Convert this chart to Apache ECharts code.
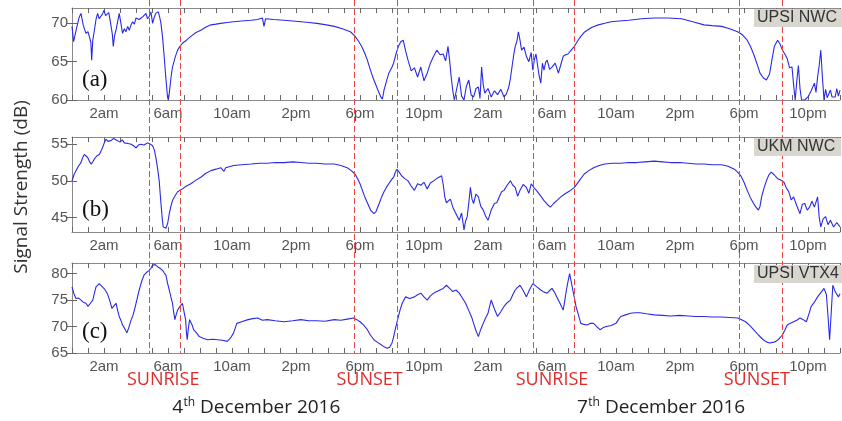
<!DOCTYPE html>
<html><head><meta charset="utf-8">
<script src="https://cdn.jsdelivr.net/npm/echarts@6/dist/echarts.min.js"></script>
<style>html,body{margin:0;padding:0;background:#fff}#c{width:842px;height:421px}</style>
</head><body><div id="c"></div>
<script>
// hours since 00:00 of the first day (4 Dec: 0-24, 7 Dec: 24-48)
const tickHours = [2,6,10,14,18,22,26,30,34,38,42,46];
const tickLabels = ['2am','6am','10am','2pm','6pm','10pm','2am','6am','10am','2pm','6pm','10pm'];
const terminatorHours = [4.8,6.75,17.65,20.3,28.8,31.4,41.7,44.4];
const eventLabelHours = [5.7,18.6,30.0,42.8];
const eventLabels = ['SUNRISE','SUNSET','SUNRISE','SUNSET'];
const stationNames = ['UPSI NWC','UKM NWC','UPSI VTX4'];
const panelTags = ['(a)','(b)','(c)'];
const dateDays = ['4','7'];
const dateCenterHours = [11.5, 36.8];

const upsiNwc = [[0,69.6],[0.1,67.6],[0.3,69.5],[0.45,70.8],[0.56,71.3],[0.7,69.8],[0.87,68.7],[1.0,68.9],[1.08,68.3],[1.18,67.5],[1.23,65.2],[1.3,67.8],[1.4,69.1],[1.5,70.5],[1.6,71.3],[1.7,70.6],[1.8,70.4],[1.9,71.2],[2.0,71.7],[2.1,71.0],[2.2,70.9],[2.3,71.4],[2.43,69.8],[2.52,68.6],[2.58,67.0],[2.66,68.4],[2.75,69.1],[2.85,70.2],[2.95,71.3],[3.05,70.1],[3.16,68.7],[3.27,69.3],[3.37,68.9],[3.48,69.6],[3.58,69.1],[3.69,69.8],[3.79,70.2],[3.9,69.9],[4.0,70.7],[4.1,70.9],[4.2,70.5],[4.3,70.4],[4.45,70.9],[4.62,71.3],[4.72,70.6],[4.83,70.9],[4.93,71.5],[5.04,70.0],[5.14,70.8],[5.24,71.3],[5.39,71.5],[5.47,70.9],[5.56,70.0],[5.66,68.2],[5.76,65.7],[5.86,63.0],[5.97,60.4],[6.02,60.0],[6.08,60.9],[6.18,62.8],[6.28,64.3],[6.45,65.6],[6.6,66.5],[6.75,67.0],[6.9,67.4],[7.15,67.8],[7.43,68.3],[7.75,68.8],[8.05,69.1],[8.35,69.5],[8.68,69.8],[9.0,69.9],[9.3,70.0],[9.7,70.1],[10.1,70.2],[10.6,70.3],[11.2,70.4],[11.6,70.5],[11.9,70.7],[12.0,69.6],[12.1,70.6],[12.6,70.5],[13.25,70.4],[13.8,70.3],[14.3,70.2],[14.8,70.1],[15.3,70.0],[15.9,69.8],[16.4,69.6],[16.9,69.3],[17.4,68.9],[17.7,68.3],[17.9,67.7],[18.1,67.0],[18.3,66.1],[18.46,65.2],[18.65,63.9],[18.87,62.6],[19.1,61.4],[19.3,60.4],[19.4,60.1],[19.5,61.3],[19.65,62.4],[19.8,63.5],[20.0,64.3],[20.1,64.8],[20.25,66.0],[20.4,67.0],[20.55,67.6],[20.7,67.8],[20.85,66.4],[21.0,65.2],[21.2,63.8],[21.4,64.2],[21.6,63.0],[21.8,64.3],[22.0,62.5],[22.2,63.5],[22.4,64.8],[22.6,65.7],[22.8,66.5],[23.0,65.9],[23.2,66.0],[23.35,65.1],[23.5,67.0],[23.6,65.2],[23.7,63.0],[23.8,61.2],[23.9,60.0],[24.05,61.5],[24.2,63.0],[24.35,60.5],[24.5,60.0],[24.65,61.8],[24.8,62.6],[24.95,60.6],[25.1,60.4],[25.25,61.5],[25.4,61.7],[25.5,60.2],[25.6,64.3],[25.7,62.0],[25.8,60.9],[26.0,61.5],[26.2,60.4],[26.4,61.2],[26.6,60.7],[26.8,61.4],[27.0,60.4],[27.15,60.8],[27.3,61.7],[27.4,62.8],[27.5,64.3],[27.6,65.8],[27.7,67.0],[27.8,67.6],[27.9,68.9],[28.0,67.8],[28.1,66.5],[28.25,66.9],[28.4,65.7],[28.55,65.0],[28.7,66.2],[28.8,63.9],[28.9,65.3],[29.0,66.0],[29.1,64.5],[29.2,63.1],[29.3,62.2],[29.4,64.8],[29.5,63.9],[29.6,64.9],[29.7,65.2],[29.85,64.0],[30.0,64.3],[30.2,64.8],[30.4,63.5],[30.55,64.6],[30.7,65.7],[30.85,65.9],[31.0,66.0],[31.2,66.5],[31.4,67.0],[31.6,67.7],[31.8,68.3],[32.0,68.8],[32.2,69.1],[32.5,69.5],[32.9,69.8],[33.3,70.0],[33.7,70.2],[34.2,70.3],[34.8,70.4],[35.6,70.6],[36.4,70.7],[37.2,70.7],[38.1,70.6],[38.8,70.2],[39.5,69.8],[40.0,69.7],[40.6,69.6],[41.1,69.3],[41.6,68.9],[41.9,68.5],[42.2,67.8],[42.4,67.0],[42.6,66.0],[42.8,64.8],[43.0,63.5],[43.2,62.9],[43.4,62.6],[43.6,63.4],[43.75,65.3],[43.9,67.0],[44.1,67.8],[44.25,67.3],[44.4,66.5],[44.55,66.0],[44.7,65.4],[44.85,64.2],[45.0,64.3],[45.1,62.0],[45.2,60.0],[45.3,62.5],[45.4,64.5],[45.5,61.5],[45.6,60.0],[45.8,60.0],[46.0,60.4],[46.2,61.2],[46.4,62.2],[46.5,61.0],[46.6,63.0],[46.7,64.5],[46.8,66.5],[46.9,63.0],[47.0,60.0],[47.1,61.4],[47.2,60.3],[47.4,61.3],[47.5,60.4],[47.7,60.4],[47.8,61.5],[47.9,60.5],[48.0,61.3]];

const ukmNwc = [[0,50.0],[0.12,50.8],[0.25,51.4],[0.4,52.0],[0.56,52.5],[0.67,53.2],[0.77,53.6],[0.88,53.4],[0.98,53.2],[1.08,52.7],[1.19,52.3],[1.3,52.6],[1.4,53.0],[1.55,53.4],[1.7,53.6],[1.8,54.0],[1.9,54.5],[2.0,55.1],[2.12,55.7],[2.25,55.4],[2.43,55.5],[2.6,55.8],[2.85,55.5],[3.0,55.3],[3.15,55.6],[3.27,55.2],[3.5,55.1],[3.7,55.0],[3.85,54.8],[4.0,54.5],[4.15,54.9],[4.3,55.0],[4.5,54.9],[4.72,55.2],[4.9,55.0],[5.04,54.8],[5.15,54.2],[5.24,53.2],[5.35,51.7],[5.45,50.0],[5.56,46.9],[5.65,44.6],[5.7,43.7],[5.87,43.5],[5.98,44.2],[6.08,45.5],[6.18,46.5],[6.28,47.3],[6.45,48.0],[6.6,48.5],[6.9,48.9],[7.15,49.3],[7.43,49.6],[7.75,50.1],[8.05,50.5],[8.35,51.0],[8.68,51.4],[9.0,51.6],[9.3,51.8],[9.5,51.3],[9.6,51.8],[10.1,52.1],[10.6,52.2],[11.2,52.3],[11.7,52.4],[12.2,52.4],[12.7,52.5],[13.25,52.5],[13.8,52.6],[14.3,52.5],[14.8,52.4],[15.3,52.4],[15.8,52.3],[16.4,52.3],[16.8,52.1],[17.2,51.8],[17.45,51.4],[17.7,50.9],[17.85,50.3],[18.0,49.6],[18.15,48.7],[18.3,47.8],[18.5,46.8],[18.66,46.0],[18.87,45.5],[19.0,45.8],[19.2,46.9],[19.35,47.8],[19.5,48.5],[19.65,49.1],[19.8,49.6],[19.95,50.1],[20.1,50.5],[20.2,51.1],[20.3,51.6],[20.45,51.2],[20.6,50.7],[20.8,50.3],[21.0,50.0],[21.2,49.3],[21.4,48.7],[21.6,49.6],[21.8,49.4],[22.0,49.8],[22.2,48.9],[22.4,49.7],[22.6,50.0],[22.85,50.4],[23.1,50.7],[23.2,49.5],[23.3,47.8],[23.4,47.0],[23.5,46.9],[23.65,47.5],[23.8,46.4],[24.0,45.5],[24.2,44.6],[24.35,45.6],[24.5,43.3],[24.6,44.5],[24.7,45.1],[24.8,47.0],[24.9,49.1],[25.0,47.5],[25.1,46.9],[25.25,48.2],[25.4,47.8],[25.55,46.5],[25.7,46.0],[25.85,45.2],[26.0,44.6],[26.2,46.0],[26.4,46.9],[26.55,47.0],[26.7,47.8],[26.85,48.5],[27.0,48.7],[27.2,49.4],[27.4,50.0],[27.55,49.4],[27.7,49.1],[27.85,47.9],[28.0,48.7],[28.2,49.5],[28.4,49.1],[28.55,48.3],[28.7,49.6],[28.9,49.0],[29.1,48.5],[29.3,47.9],[29.5,47.3],[29.7,46.8],[29.9,46.4],[30.1,46.9],[30.3,47.3],[30.55,47.8],[30.8,48.2],[31.1,48.6],[31.4,49.1],[31.7,50.0],[32.0,50.9],[32.3,51.4],[32.6,51.8],[32.95,52.1],[33.3,52.3],[33.8,52.4],[34.3,52.4],[34.8,52.5],[35.3,52.5],[35.8,52.6],[36.4,52.7],[36.9,52.6],[37.4,52.5],[38.0,52.5],[38.5,52.4],[39.0,52.3],[39.5,52.3],[40.0,52.2],[40.6,52.2],[41.0,52.0],[41.4,51.6],[41.6,51.2],[41.8,50.7],[42.0,49.8],[42.2,48.7],[42.4,47.7],[42.6,46.9],[42.75,46.4],[42.9,46.0],[43.0,46.5],[43.1,47.8],[43.25,49.0],[43.4,50.0],[43.55,50.8],[43.7,51.2],[43.9,50.8],[44.1,50.3],[44.3,50.1],[44.5,49.8],[44.65,49.0],[44.8,48.5],[44.95,47.4],[45.1,47.8],[45.3,46.6],[45.5,45.5],[45.65,46.8],[45.8,46.9],[45.95,46.0],[46.1,46.4],[46.25,47.2],[46.4,46.4],[46.6,47.8],[46.7,45.0],[46.8,43.7],[46.95,44.8],[47.1,45.1],[47.25,44.0],[47.4,44.6],[47.6,43.7],[47.8,44.3],[48.0,43.7]];

const upsiVtx = [[0,77.5],[0.12,76.2],[0.25,75.3],[0.4,75.4],[0.56,75.0],[0.7,74.6],[0.87,74.4],[1.0,73.8],[1.15,74.4],[1.3,75.0],[1.4,76.3],[1.5,77.5],[1.6,77.8],[1.7,78.1],[1.8,77.9],[1.9,77.5],[2.05,77.0],[2.2,76.3],[2.35,75.0],[2.5,73.4],[2.62,73.9],[2.75,74.4],[2.85,73.1],[2.95,71.9],[3.05,71.2],[3.16,70.3],[3.3,69.6],[3.43,68.8],[3.55,69.8],[3.7,71.3],[3.8,72.0],[3.9,73.1],[4.05,75.0],[4.2,76.9],[4.35,78.5],[4.5,79.7],[4.65,80.2],[4.83,80.6],[4.95,81.1],[5.04,81.6],[5.2,81.7],[5.35,81.3],[5.5,81.0],[5.66,80.6],[5.77,80.1],[5.87,79.7],[5.97,78.2],[6.08,76.9],[6.18,75.6],[6.28,74.4],[6.35,72.8],[6.43,71.3],[6.5,72.1],[6.6,73.1],[6.75,73.8],[6.9,74.4],[7.0,72.8],[7.1,71.3],[7.15,69.0],[7.2,67.5],[7.28,69.8],[7.35,71.3],[7.43,71.3],[7.52,70.2],[7.6,69.4],[7.78,68.8],[7.95,68.1],[8.2,67.8],[8.47,67.5],[8.8,67.6],[9.1,67.5],[9.4,67.4],[9.7,67.2],[9.9,67.8],[10.1,68.8],[10.2,69.7],[10.3,70.6],[10.6,70.9],[11.0,71.3],[11.3,71.5],[11.6,71.6],[11.9,71.2],[12.2,71.3],[12.7,71.1],[13.25,70.9],[13.8,71.1],[14.3,71.3],[14.8,71.1],[15.3,71.1],[15.8,71.0],[16.4,71.3],[16.8,71.2],[17.2,71.4],[17.6,71.6],[17.8,71.3],[18.0,70.9],[18.25,70.2],[18.46,69.4],[18.65,68.4],[18.87,67.5],[19.1,67.0],[19.3,66.6],[19.5,66.2],[19.7,65.9],[19.85,66.1],[20.0,66.9],[20.1,68.0],[20.2,69.4],[20.35,71.3],[20.5,73.1],[20.65,74.5],[20.85,75.6],[21.1,75.3],[21.4,75.6],[21.6,76.0],[21.8,76.3],[22.0,75.6],[22.2,75.0],[22.4,75.8],[22.6,76.3],[22.8,76.6],[23.0,76.9],[23.2,77.2],[23.4,77.8],[23.6,77.2],[23.8,76.6],[24.0,76.9],[24.2,76.3],[24.4,75.4],[24.6,74.4],[24.8,73.0],[25.0,71.6],[25.1,70.6],[25.25,69.2],[25.4,68.1],[25.55,69.5],[25.7,70.6],[25.85,71.6],[26.0,72.5],[26.1,73.8],[26.2,75.0],[26.4,73.3],[26.6,71.9],[26.8,72.8],[27.0,73.8],[27.2,74.5],[27.4,75.0],[27.55,76.0],[27.7,76.9],[27.85,77.4],[28.0,77.8],[28.2,76.8],[28.4,75.6],[28.6,77.0],[28.8,78.1],[29.05,77.5],[29.3,76.9],[29.5,76.5],[29.7,76.3],[29.85,76.8],[30.0,77.2],[30.15,76.5],[30.3,75.6],[30.5,74.4],[30.7,73.1],[30.8,74.9],[30.9,76.9],[31.0,78.5],[31.1,80.0],[31.2,78.5],[31.3,76.9],[31.4,75.4],[31.5,73.8],[31.65,72.2],[31.8,70.6],[32.0,70.4],[32.2,70.3],[32.4,70.6],[32.6,70.6],[32.8,70.0],[33.0,69.4],[33.2,69.8],[33.4,70.0],[33.7,70.2],[34.0,70.6],[34.15,71.3],[34.3,71.9],[34.6,72.2],[34.9,72.5],[35.2,72.6],[35.5,72.6],[35.9,72.4],[36.4,72.2],[36.9,72.1],[37.4,72.0],[38.0,72.1],[38.5,72.0],[39.0,71.9],[39.5,71.9],[40.0,71.8],[40.6,71.8],[41.1,71.7],[41.6,71.6],[41.85,71.3],[42.1,70.9],[42.35,70.2],[42.6,69.4],[42.9,68.4],[43.2,67.5],[43.4,67.1],[43.6,66.9],[43.8,67.0],[44.0,67.2],[44.2,67.7],[44.4,68.4],[44.55,69.3],[44.7,70.3],[44.9,70.6],[45.1,70.9],[45.3,71.2],[45.5,71.6],[45.7,71.3],[45.9,70.9],[46.05,72.3],[46.2,73.8],[46.4,74.6],[46.6,75.6],[46.8,76.4],[47.0,77.2],[47.15,76.0],[47.25,72.0],[47.35,67.5],[47.45,72.5],[47.55,77.8],[47.7,76.6],[47.9,75.6],[48.0,76.2]];

const yRanges = [[60,72],[43,56],[65,82]];
const yTicks = [[60,65,70],[45,50,55],[65,70,75,80]];
const seriesData = [upsiNwc, ukmNwc, upsiVtx];

const grids = [
  {left:72, right:2, top:8, height:92},
  {left:72, right:2, top:137, height:95},
  {left:72, right:2, top:263, height:90}
];
const axisGray = '#8a8a8a';
const labelFont = 'Liberation Sans';

const xAxes = [], yAxes = [], series = [];
for (let i = 0; i < 3; i++) {
  const baseX = {
    type:'value', gridIndex:i, min:0, max:48, interval:1,
    axisLine:{show:true, lineStyle:{color:axisGray, width:1}},
    axisTick:{show:true, inside:true, length:5, lineStyle:{color:'#666'},
      customValues: Array.from({length:49},(_,k)=>k)},
    splitLine:{show:false}
  };
  xAxes.push(Object.assign({}, baseX, {position:'bottom',
    axisLabel:{show:true, margin:6, color:'#555', fontSize:15, fontFamily:labelFont,
      customValues: tickHours,
      formatter: v => { const k = tickHours.indexOf(Math.round(v)); return k>=0 ? tickLabels[k] : ''; }}}));
  xAxes.push(Object.assign({}, baseX, {position:'top', axisLabel:{show:false}}));
  const baseY = {
    type:'value', gridIndex:i, min:yRanges[i][0], max:yRanges[i][1],
    axisTick:{show:true, inside:true, length:5, lineStyle:{color:'#666'}, customValues: yTicks[i]},
    splitLine:{show:false}
  };
  yAxes.push(Object.assign({}, baseY, {position:'left',
    axisLine:{show:true, lineStyle:{color:axisGray}},
    axisLabel:{show:true, margin:4, color:'#555', fontSize:15, fontFamily:labelFont, customValues: yTicks[i]}}));
  yAxes.push(Object.assign({}, baseY, {position:'right',
    axisLine:{show:false}, axisLabel:{show:false}}));
  series.push({
    type:'line', xAxisIndex:2*i, yAxisIndex:2*i, data:seriesData[i],
    showSymbol:false, symbol:'none', silent:true, animation:false, clip:true,
    lineStyle:{color:'#2a2ae6', width:1.1}
  });
}

const chart = echarts.init(document.getElementById('c'), null, {renderer:'canvas'});
chart.setOption({
  backgroundColor:'#fff', animation:false,
  grid: grids, xAxis: xAxes, yAxis: yAxes, series: series
});

// overlay elements placed through the chart's own x scale
const gfx = [];
terminatorHours.forEach(h => {
  const x = Math.round(chart.convertToPixel({xAxisIndex:0}, h)) + 0.5;
  gfx.push({type:'line', shape:{x1:x, y1:0, x2:x, y2:353}, silent:true, z:5,
    style:{stroke:'#e84545', lineWidth:1, lineDash:[6,3]}});
});
eventLabelHours.forEach((h, k) => {
  const x = chart.convertToPixel({xAxisIndex:4}, h);
  gfx.push({type:'text', x:x, y:380, z:10, style:{text:eventLabels[k], fill:'#e02b2b',
    font:'18px "Open Sans"', align:'center', verticalAlign:'middle'}});
});
const boxY = [9, 138, 265];
stationNames.forEach((s, k) => {
  gfx.push({type:'text', x:754, y:boxY[k], z:10, style:{text:s, fill:'#333',
    font:'16px "Liberation Sans"', backgroundColor:'#d9d6d0', padding:[1,6,1,3], align:'left', verticalAlign:'top'}});
});
const tagY = [80, 210, 332];
panelTags.forEach((t, k) => {
  gfx.push({type:'text', x:82, y:tagY[k], z:10, style:{text:t, fill:'#111',
    font:'23px "Liberation Serif"', align:'left', verticalAlign:'middle'}});
});
gfx.push({type:'text', x:22, y:187, rotation:Math.PI/2, z:10, style:{text:'Signal Strength (dB)', fill:'#333',
  font:'19px "Open Sans"', align:'center', verticalAlign:'middle'}});

// date captions with superscript ordinal
const mctx = document.createElement('canvas').getContext('2d');
const bigFont = '19px "Open Sans"', supFont = '12px "Open Sans"';
dateCenterHours.forEach((h, k) => {
  const cx = chart.convertToPixel({xAxisIndex:4}, h);
  const rest = ' December 2016';
  mctx.font = bigFont; const w1 = mctx.measureText(dateDays[k]).width, w3 = mctx.measureText(rest).width;
  mctx.font = supFont; const w2 = mctx.measureText('th').width;
  const x = cx - (w1 + w2 + w3) / 2;
  gfx.push({type:'text', x:x, y:408, z:10, style:{text:dateDays[k], fill:'#222', font:bigFont, align:'left', verticalAlign:'middle'}});
  gfx.push({type:'text', x:x + w1 + 0.5, y:403, z:10, style:{text:'th', fill:'#222', font:supFont, align:'left', verticalAlign:'middle'}});
  gfx.push({type:'text', x:x + w1 + w2 + 0.5, y:408, z:10, style:{text:rest, fill:'#222', font:bigFont, align:'left', verticalAlign:'middle'}});
});
chart.setOption({graphic: gfx});
</script>
</body></html>
